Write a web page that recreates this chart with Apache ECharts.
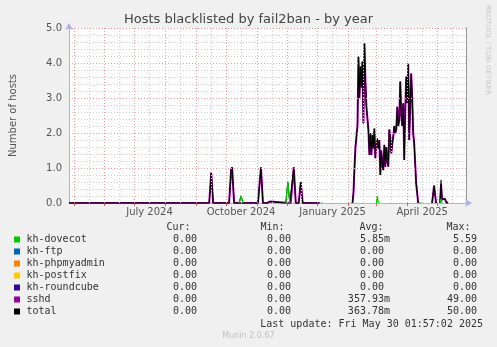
<!DOCTYPE html>
<html><head><meta charset="utf-8">
<script src="https://cdn.jsdelivr.net/npm/echarts@6/dist/echarts.min.js"></script>
<style>html,body{margin:0;padding:0;background:#f0f0f0}#c{width:497px;height:347px}</style>
</head><body><div id="c"></div><script>
// ---------- data ----------
const xStart = '2024-04-26T02:00:00Z';
const xEnd = '2025-05-30T02:00:00Z';
const monthStarts = ['2024-05-01','2024-06-01','2024-07-01','2024-08-01','2024-09-01','2024-10-01','2024-11-01','2024-12-01','2025-01-01','2025-02-01','2025-03-01','2025-04-01','2025-05-01'];
const monthMids = ['2024-05-16','2024-06-16','2024-07-16','2024-08-16','2024-09-16','2024-10-16','2024-11-16','2024-12-16','2025-01-16','2025-02-16','2025-03-16','2025-04-16','2025-05-16'];
const monthLabelDates = ['2024-07-16','2024-10-16','2025-01-16','2025-04-16'];
const monthLabels = ['July 2024','October 2024','January 2025','April 2025'];
const yTickValues = [0,1,2,3,4,5];
const yTickLabels = ['0.0','1.0','2.0','3.0','4.0','5.0'];

// total (black) - early part, zero baseline with spikes
const totalEarly = [
  ['2024-04-26T02:00:00Z',0],['2024-09-14',0],['2024-09-16',0.87],['2024-09-18',0],
  ['2024-10-04',0],['2024-10-06',0.95],['2024-10-07',1.02],['2024-10-09',0],
  ['2024-10-14',0],['2024-10-16',0.2],['2024-10-18',0],
  ['2024-11-02',0],['2024-11-05',1.02],['2024-11-07',0],
  ['2024-11-11',0],['2024-11-12',0.04],['2024-11-14',0.04],['2024-11-15',0],
  ['2024-11-30',0],['2024-12-02',0.6],['2024-12-04',0],
  ['2024-12-05',0],['2024-12-08',1.02],['2024-12-10',0],
  ['2024-12-13',0],['2024-12-15',0.6],['2024-12-17',0],['2025-01-03',0]
];
const sshdEarly = [
  ['2024-04-26T02:00:00Z',0],['2024-09-14',0],['2024-09-16',0.87],['2024-09-18',0],
  ['2024-10-04',0],['2024-10-06',0.95],['2024-10-07',1.02],['2024-10-09',0],
  ['2024-11-02',0],['2024-11-05',1.02],['2024-11-07',0],
  ['2024-11-11',0],['2024-11-12',0.04],['2024-11-14',0.04],['2024-11-15',0],
  ['2024-12-05',0],['2024-12-08',1.02],['2024-12-10',0],
  ['2024-12-13',0],['2024-12-15',0.6],['2024-12-17',0],['2025-01-03',0]
];
// daily values from blobStart
const blobStart = '2025-02-05';
const totalBlob = [0,0.3,1.0,1.6,1.9,2.2,4.18,3.0,3.9,3.3,4.04,2.28,4.56,3.5,2.75,2.8,2.09,1.37,2.0,1.37,1.94,1.56,2.13,1.28,1.7,1.85,1.56,1.8,0.8,1.5,1.1,0.94,1.66,1.04,1.6,1.2,1.04,2.1,1.9,1.42,1.7,1.9,2.2,2.0,2.09,2.75,2.2,2.37,3.47,2.56,2.2,2.85,1.23,2.6,3.61,2.85,3.99,1.8,2.8,3.7,3.04,2.0,1.7,1.13,0.56,0.29,0];
const sshdBlob  = [0,0.3,1.0,1.6,1.9,2.2,4.18,3.0,3.9,3.3,4.04,2.28,4.56,3.5,2.75,2.8,2.09,1.37,2.0,1.37,1.94,1.56,2.13,1.28,1.7,1.65,1.56,1.8,0.8,1.5,1.1,0.94,1.66,1.04,1.6,1.2,1.04,2.1,1.9,1.42,1.7,1.9,2.2,2.0,2.09,2.75,2.2,2.37,3.47,2.56,2.2,2.85,1.23,2.6,3.61,2.85,3.99,1.8,2.8,3.7,3.04,2.0,1.7,1.13,0.56,0.29,0];
const totalLate = [
  [['2025-04-26',0],['2025-04-28',0.5],['2025-04-29',0.24],['2025-04-30',0]],
  [['2025-05-04',0],['2025-05-05',0.66],['2025-05-06',0.1],['2025-05-07',0.15],['2025-05-08',0.05],['2025-05-09',0.12],['2025-05-10',0.03],['2025-05-11',0.05],['2025-05-12',0]]
];
const sshdLate = [
  [['2025-04-26',0],['2025-04-28',0.5],['2025-04-29',0.24],['2025-04-30',0]],
  [['2025-05-04',0],['2025-05-05',0.54],['2025-05-06',0.1],['2025-05-07',0.15],['2025-05-08',0.05],['2025-05-09',0.12],['2025-05-10',0.03],['2025-05-11',0.05],['2025-05-12',0]]
];
const dovecotSpikes = [
  [['2024-10-14',0],['2024-10-16',0.2],['2024-10-18',0]],
  [['2024-11-30',0],['2024-12-02',0.6],['2024-12-04',0]],
  [['2025-01-04',0],['2025-01-05',0.04],['2025-01-06',0]],
  [['2025-03-01',0],['2025-03-02',0.2],['2025-03-03',0]],
  [['2025-04-13',0],['2025-04-14',0.04],['2025-04-15',0]],
  [['2025-05-04',0],['2025-05-05',0.12],['2025-05-06',0]]
];

// legend table
const legendNames = ['kh-dovecot','kh-ftp','kh-phpmyadmin','kh-postfix','kh-roundcube','sshd','total'];
const curVals = ['0.00','0.00','0.00','0.00','0.00','0.00','0.00'];
const minVals = ['0.00','0.00','0.00','0.00','0.00','0.00','0.00'];
const avgVals = ['5.85m','0.00 ','0.00 ','0.00 ','0.00 ','357.93m','363.78m'];
const maxVals = ['5.59','0.00','0.00','0.00','0.00','49.00','50.00'];
const colHeaders = ['Cur:','Min:','Avg:','Max:'];
const lastUpdate = 'Last update: Fri May 30 01:57:02 2025';
const titleText = 'Hosts blacklisted by fail2ban - by year';
const yName = 'Number of hosts';
const watermark = 'RRDTOOL / TOBI OETIKER';
const footer = 'Munin 2.0.67';

// ---------- styles ----------
const legendColors = ['#00cc00','#0066b3','#ff8000','#ffcc00','#330099','#990099','#000000'];
const DAY = 86400000;
const t = s => Date.parse(s.length === 10 ? s + 'T00:00:00Z' : s);
const toPts = arr => arr.map(p => [t(p[0]), p[1]]);
const blobPts = vals => vals.map((v, i) => [t(blobStart) + i * DAY, v]);
const joinSegs = segs => { const out = []; segs.forEach((s, i) => { if (i) out.push([s[0][0] - DAY / 2, '-']); s.forEach(p => out.push(p)); }); return out; };

const totalData = joinSegs([toPts(totalEarly), blobPts(totalBlob), ...totalLate.map(toPts)]);
const sshdData = joinSegs([toPts(sshdEarly), blobPts(sshdBlob), ...sshdLate.map(toPts)]);
const dovecotData = joinSegs(dovecotSpikes.map(toPts));

const MONO = '"DejaVu Sans Mono", monospace';
const SANS = '"DejaVu Sans", sans-serif';
const axisCol = '#aab0f0';
const majorCol = '#e89a9a';
const minorCol = '#cfcfcf';

const labelMap = {};
monthLabelDates.forEach((d, i) => { labelMap[t(d)] = monthLabels[i]; });

const graphics = [];
const rowY0 = 239.5, rowStep = 12;
const colRight = [197, 291, 390, 477];
colHeaders.forEach((h, i) => {
  graphics.push({ type: 'text', x: colRight[i] - 6.5, y: 227.5, style: { text: h, font: '10px ' + MONO, fill: '#333', textAlign: 'right', textVerticalAlign: 'middle' } });
});
legendNames.forEach((n, i) => {
  const y = rowY0 + i * rowStep;
  graphics.push({ type: 'rect', shape: { x: 14, y: y - 3, width: 6, height: 6 }, style: { fill: legendColors[i] } });
  graphics.push({ type: 'text', x: 26.5, y: y, style: { text: n, font: '10px ' + MONO, fill: '#333', textVerticalAlign: 'middle' } });
  [curVals[i], minVals[i], avgVals[i], maxVals[i]].forEach((v, j) => {
    graphics.push({ type: 'text', x: colRight[j], y: y, style: { text: v, font: '10px ' + MONO, fill: '#333', textAlign: 'right', textVerticalAlign: 'middle' } });
  });
});
graphics.push({ type: 'text', x: 483, y: 324, style: { text: lastUpdate, font: '10px ' + MONO, fill: '#333', textAlign: 'right', textVerticalAlign: 'middle' } });
graphics.push({ type: 'text', x: 248.5, y: 336, style: { text: footer, font: '8px ' + SANS, fill: '#c0c0c0', textAlign: 'center', textVerticalAlign: 'middle' } });
graphics.push({ type: 'text', x: 487.5, y: 5, rotation: -Math.PI / 2, style: { text: watermark, font: '7px ' + SANS, fill: '#c8c8c8', textAlign: 'left', textVerticalAlign: 'middle' } });

const chart = echarts.init(document.getElementById('c'), null, { renderer: 'canvas' });
chart.setOption({
  animation: false,
  backgroundColor: '#f0f0f0',
  title: { text: titleText, left: 'center', top: 13, padding: 0, textStyle: { fontFamily: SANS, fontSize: 13, fontWeight: 'normal', color: '#444' } },
  grid: { left: 67, right: 31, top: 28, bottom: 144, backgroundColor: '#ffffff', show: true, borderWidth: 0 },
  xAxis: [{
    type: 'value', min: t(xStart), max: t(xEnd),
    axisLine: { show: true, onZero: false, lineStyle: { color: axisCol, width: 1 }, symbol: ['none', 'arrow'], symbolSize: [6, 7], symbolOffset: [0, 6] },
    axisTick: { show: true, customValues: monthStarts.map(t), length: 3, lineStyle: { color: '#e06060' } },
    axisLabel: { customValues: monthLabelDates.map(t), formatter: v => labelMap[v] || '', fontFamily: SANS, fontSize: 10, color: '#555', margin: 4 },
    splitLine: { show: false }
  }],
  yAxis: [{
    type: 'value', min: 0, max: 5, interval: 0.2,
    axisLine: { show: true, lineStyle: { color: axisCol, width: 1 }, symbol: ['none', 'arrow'], symbolSize: [6, 7], symbolOffset: [0, 5] },
    axisTick: { show: false },
    axisLabel: { formatter: v => { const k = yTickValues.findIndex(y => Math.abs(y - v) < 1e-6); return k >= 0 ? yTickLabels[k] : ''; }, fontFamily: SANS, fontSize: 10, color: '#555', margin: 7 },
    splitLine: { show: true, lineStyle: { color: minorCol, type: [1, 2], width: 1 } },
    name: yName, nameLocation: 'middle', nameGap: 51, nameTextStyle: { fontFamily: SANS, fontSize: 10, color: '#555' }
  }, {
    type: 'value', min: 0, max: 5, position: 'right',
    axisLine: { show: true, lineStyle: { color: '#999' } }, axisTick: { show: false }, axisLabel: { show: false }, splitLine: { show: false }
  }],
  series: [
    { type: 'line', data: [], z: 1, silent: true,
      markLine: { silent: true, symbol: 'none', label: { show: false }, animation: false,
        data: monthMids.map(d => ({ xAxis: t(d), lineStyle: { color: minorCol, type: [1, 2], width: 1 } }))
          .concat(monthStarts.map(d => ({ xAxis: t(d), lineStyle: { color: majorCol, type: [1, 2], width: 1 } })))
          .concat(yTickValues.slice(1).map(v => ({ yAxis: v, lineStyle: { color: majorCol, type: [1, 2], width: 1 } }))) } },
    { name: 'sshd', type: 'line', data: sshdData, showSymbol: false, symbol: 'none', lineStyle: { color: '#990099', width: 2 }, z: 3 },
    { name: 'total', type: 'line', data: totalData, showSymbol: false, symbol: 'none', lineStyle: { color: '#000000', width: 1.1 }, z: 4 },
    { name: 'kh-dovecot', type: 'line', data: dovecotData, showSymbol: false, symbol: 'none', lineStyle: { color: '#00cc00', width: 1.2 }, z: 5 }
  ],
  graphic: graphics
});
</script></body></html>
